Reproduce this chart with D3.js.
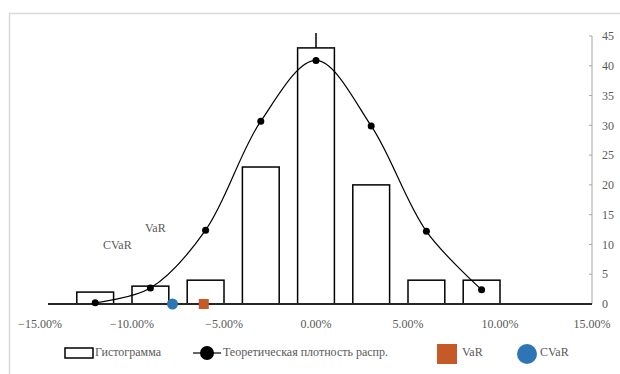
<!DOCTYPE html>
<meta charset="utf-8">
<title>Histogram VaR</title>
<style>
body { margin: 0; background: #fff; }
svg { display: block; }
svg text { font-family: "Liberation Serif", "Times New Roman", "DejaVu Serif", serif; }
</style>
<svg width="620" height="374"></svg>
<script src="https://d3js.org/d3.v7.min.js"></script>
<script>
// bin centres (%), histogram counts
var binCenters = [-12, -9, -6, -3, 0, 3, 6, 9];
var histCounts = [2, 3, 4, 23, 43, 20, 4, 4];
// theoretical density (scaled to counts)
var densityValues = [0.2, 2.7, 12.4, 30.7, 40.9, 29.9, 12.2, 2.4];
var varPoint = [-6.1, 0];
var cvarPoint = [-7.8, 0];
var xTicks = [-15, -10, -5, 0, 5, 10, 15];
var yTicks = [0, 5, 10, 15, 20, 25, 30, 35, 40, 45];
var legendLabels = ["Гистограмма", "Теоретическая плотность распр.", "VaR", "CVaR"];

var svg = d3.select("svg");
var txt = "#595959";

// light chart border (left + top only visible)
svg.append("rect")
  .attr("x", 9.5).attr("y", 13.5)
  .attr("width", 640).attr("height", 400)
  .attr("fill", "none").attr("stroke", "#d9d9d9").attr("stroke-width", 1.5);

var x = d3.scaleLinear().domain([-15, 15]).range([40, 592]);
var y = d3.scaleLinear().domain([0, 45]).range([304, 36]);
var binW = 2; // bar width in %

// right value axis
var yAxis = svg.append("g").attr("transform", "translate(" + x(15) + ",0)");
yAxis.append("line")
  .attr("y1", y(0)).attr("y2", y(45))
  .attr("stroke", "#a6a6a6").attr("stroke-width", 1);
yAxis.selectAll(".tk").data(yTicks).enter().append("line")
  .attr("x1", -3).attr("x2", 0)
  .attr("y1", function(d) { return y(d); }).attr("y2", function(d) { return y(d); })
  .attr("stroke", "#a6a6a6");
yAxis.selectAll("text").data(yTicks).enter().append("text")
  .attr("x", 10).attr("y", function(d) { return y(d); })
  .attr("dy", "0.35em").attr("font-size", "12px").attr("fill", txt)
  .text(function(d) { return d; });

// vertical line at 0
svg.append("line")
  .attr("x1", x(0)).attr("x2", x(0))
  .attr("y1", y(0)).attr("y2", 33)
  .attr("stroke", "#000").attr("stroke-width", 1.5);

// bars
svg.selectAll(".bar").data(binCenters).enter().append("rect")
  .attr("class", "bar")
  .attr("x", function(d) { return x(d - binW / 2); })
  .attr("width", x(binW) - x(0))
  .attr("y", function(d, i) { return y(histCounts[i]); })
  .attr("height", function(d, i) { return y(0) - y(histCounts[i]); })
  .attr("fill", "#fff").attr("stroke", "#000").attr("stroke-width", 1.5);

// x axis
svg.append("line")
  .attr("x1", 48).attr("x2", x(15))
  .attr("y1", y(0)).attr("y2", y(0))
  .attr("stroke", "#262626").attr("stroke-width", 2);
svg.selectAll(".xt").data(xTicks).enter().append("text")
  .attr("x", function(d) { return x(d); }).attr("y", 328)
  .attr("text-anchor", "middle").attr("font-size", "12px").attr("fill", txt)
  .text(function(d) { return d3.format(".2f")(d) + "%"; });

// density curve
var pts = binCenters.map(function(d, i) { return [d, densityValues[i]]; });
var line = d3.line()
  .x(function(d) { return x(d[0]); })
  .y(function(d) { return y(d[1]); })
  .curve(d3.curveCatmullRom.alpha(0.5));
svg.append("path").attr("d", line(pts))
  .attr("fill", "none").attr("stroke", "#000").attr("stroke-width", 1.2);
svg.selectAll(".dot").data(pts).enter().append("circle")
  .attr("cx", function(d) { return x(d[0]); })
  .attr("cy", function(d) { return y(d[1]); })
  .attr("r", 3.5).attr("fill", "#000");

// VaR / CVaR markers
svg.append("circle")
  .attr("cx", x(cvarPoint[0])).attr("cy", y(cvarPoint[1]))
  .attr("r", 5.5).attr("fill", "#2e75b6");
svg.append("rect")
  .attr("x", x(varPoint[0]) - 5).attr("y", y(varPoint[1]) - 5)
  .attr("width", 10).attr("height", 10).attr("fill", "#c55a28");

// annotations
svg.append("text").attr("x", 145).attr("y", 232).attr("font-size", "12px").attr("fill", txt).text("VaR");
svg.append("text").attr("x", 103).attr("y", 249).attr("font-size", "12px").attr("fill", txt).text("CVaR");

// legend
var lg = svg.append("g").attr("font-size", "12px").attr("fill", txt);
lg.append("rect").attr("x", 65).attr("y", 348).attr("width", 28).attr("height", 10)
  .attr("fill", "#fff").attr("stroke", "#000").attr("stroke-width", 1.5);
lg.append("text").attr("x", 95).attr("y", 356).text(legendLabels[0]);
lg.append("line").attr("x1", 193).attr("x2", 221).attr("y1", 353).attr("y2", 353)
  .attr("stroke", "#000").attr("stroke-width", 1.2);
lg.append("circle").attr("cx", 207).attr("cy", 353).attr("r", 7).attr("fill", "#000");
lg.append("text").attr("x", 223).attr("y", 356).text(legendLabels[1]);
lg.append("rect").attr("x", 437).attr("y", 344).attr("width", 20).attr("height", 20).attr("fill", "#c55a28");
lg.append("text").attr("x", 462).attr("y", 356).text(legendLabels[2]);
lg.append("circle").attr("cx", 527).attr("cy", 354).attr("r", 10).attr("fill", "#2e75b6");
lg.append("text").attr("x", 540).attr("y", 356).text(legendLabels[3]);
</script>
